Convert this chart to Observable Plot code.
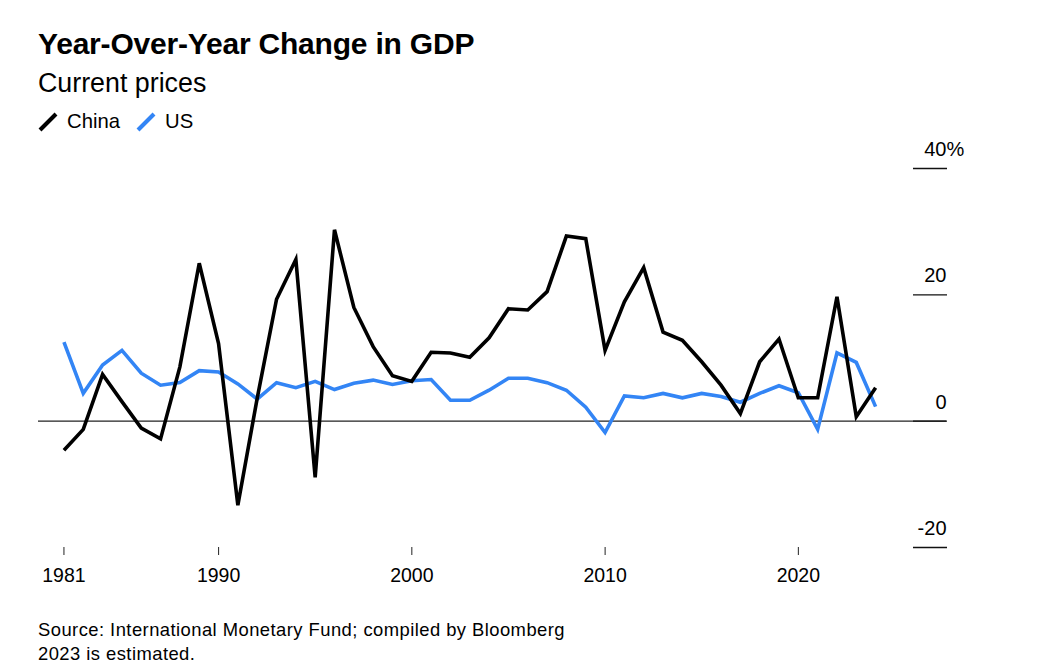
<!DOCTYPE html>
<html>
<head>
<meta charset="utf-8">
<script src="https://cdn.jsdelivr.net/npm/d3@7"></script>
<script src="https://cdn.jsdelivr.net/npm/@observablehq/plot@0.6"></script>
<style>
  html, body { margin: 0; padding: 0; background: #fff; }
  body { width: 1052px; height: 668px; position: relative; overflow: hidden;
         font-family: "Liberation Sans", Arial, Helvetica, sans-serif; color: #000; }
  .title { position: absolute; left: 38px; top: 27px; font-size: 30px; font-weight: 700; line-height: 1.15; letter-spacing: -0.2px; }
  .subtitle { position: absolute; left: 38px; top: 67.5px; font-size: 26.8px; line-height: 1.15; }
  .legend { position: absolute; left: 38px; top: 110px; font-size: 20.3px; line-height: 1.15; display: flex; align-items: center; }
  .legend .item { display: flex; align-items: center; margin-right: 16px; }
  .legend svg { margin-right: 9px; }
  #chart { position: absolute; left: 0; top: 130px; }
  .footer { position: absolute; left: 38px; top: 618px; font-size: 18.4px; line-height: 24px; letter-spacing: 0.45px; }
</style>
</head>
<body>
<div class="title">Year-Over-Year Change in GDP</div>
<div class="subtitle">Current prices</div>
<div class="legend" id="legend"></div>
<div id="chart"></div>
<div class="footer">Source: International Monetary Fund; compiled by Bloomberg<br>2023 is estimated.</div>
<script>
// ---- data (percent, year-over-year change in nominal GDP) ----
const years = [1981,1982,1983,1984,1985,1986,1987,1988,1989,1990,
               1991,1992,1993,1994,1995,1996,1997,1998,1999,2000,
               2001,2002,2003,2004,2005,2006,2007,2008,2009,2010,
               2011,2012,2013,2014,2015,2016,2017,2018,2019,2020,
               2021,2022,2023];
const china = [-4.6,-1.3,7.4,3.1,-1.1,-2.8,8.6,25.0,12.3,-13.3,
               3.6,19.3,25.6,-8.9,30.3,18.0,11.8,7.2,6.3,10.9,
               10.8,10.1,13.2,17.8,17.6,20.5,29.3,28.9,11.2,18.9,
               24.3,14.1,12.8,9.4,5.7,1.2,9.4,13.0,3.7,3.7,
               19.7,0.7,5.3];
const us = [12.5,4.4,8.9,11.2,7.6,5.7,6.1,8.0,7.8,5.9,
            3.5,6.1,5.3,6.3,5.0,6.0,6.5,5.8,6.4,6.6,
            3.3,3.3,4.9,6.8,6.8,6.1,4.9,2.2,-1.8,4.0,
            3.7,4.4,3.7,4.4,3.9,3.0,4.4,5.6,4.5,-1.3,
            10.8,9.3,2.3];
const seriesNames = ["China", "US"];
const seriesColors = ["#000000", "#3385f5"];
const xTickDates = ["1981-12-31", "1990-01-01", "2000-01-01", "2010-01-01", "2020-01-01"];
const yTicks = [-20, 0, 20, 40];
const yDomain = [-20, 40];
const xDomain = ["1980-09-06", "2027-09-01"];

// ---- build table (values dated at year end) ----
const rows = [];
years.forEach((y, i) => {
  const date = new Date(Date.UTC(y, 11, 31));
  rows.push({date, value: us[i], series: "US"});
});
years.forEach((y, i) => {
  const date = new Date(Date.UTC(y, 11, 31));
  rows.push({date, value: china[i], series: "China"});
});
const parse = s => new Date(s + "T00:00:00Z");

// ---- legend ----
const legend = document.getElementById("legend");
seriesNames.forEach((name, i) => {
  const item = document.createElement("div");
  item.className = "item";
  item.innerHTML = `<svg width="20" height="20" viewBox="0 0 20 20"><line x1="2" y1="18" x2="18" y2="2" stroke="${seriesColors[i]}" stroke-width="4"/></svg><span>${name}</span>`;
  legend.appendChild(item);
});

const font = '"Liberation Sans", Arial, Helvetica, sans-serif';
const chart = Plot.plot({
  width: 1052,
  height: 470,
  marginLeft: 38,
  marginRight: 106,
  marginTop: 38,
  marginBottom: 53,
  style: {fontFamily: font, color: "#000", background: "transparent", overflow: "visible"},
  x: {type: "utc", domain: xDomain.map(parse)},
  y: {domain: yDomain},
  color: {domain: seriesNames, range: seriesColors},
  marks: [
    Plot.ruleY([0], {stroke: "#222", strokeWidth: 1.3}),
    Plot.axisY({anchor: "right", ticks: yTicks, tickSize: -34, tickFormat: () => "", stroke: "#111", strokeWidth: 1.3, label: null}),
    Plot.text(yTicks, {y: d => d, frameAnchor: "right", textAnchor: "end", dy: -19, fontSize: 20, fill: "#000", text: d => String(d)}),
    Plot.text(yTicks.filter(d => d === yDomain[1]), {y: d => d, frameAnchor: "right", textAnchor: "start", dy: -19, fontSize: 20, fill: "#000", text: () => "%"}),
    Plot.axisX({ticks: xTickDates.map(parse), tickSize: 8, tickPadding: 13, fontSize: 19.5, stroke: "#222",
                style: {letterSpacing: "0.4px"},
                tickFormat: d => String(d.getUTCFullYear()), label: null}),
    Plot.line(rows, {x: "date", y: "value", z: "series", stroke: "series", strokeWidth: 3.6,
                     strokeLinejoin: "miter", strokeLinecap: "butt", strokeMiterlimit: 4})
  ]
});
document.getElementById("chart").appendChild(chart);
</script>
</body>
</html>
